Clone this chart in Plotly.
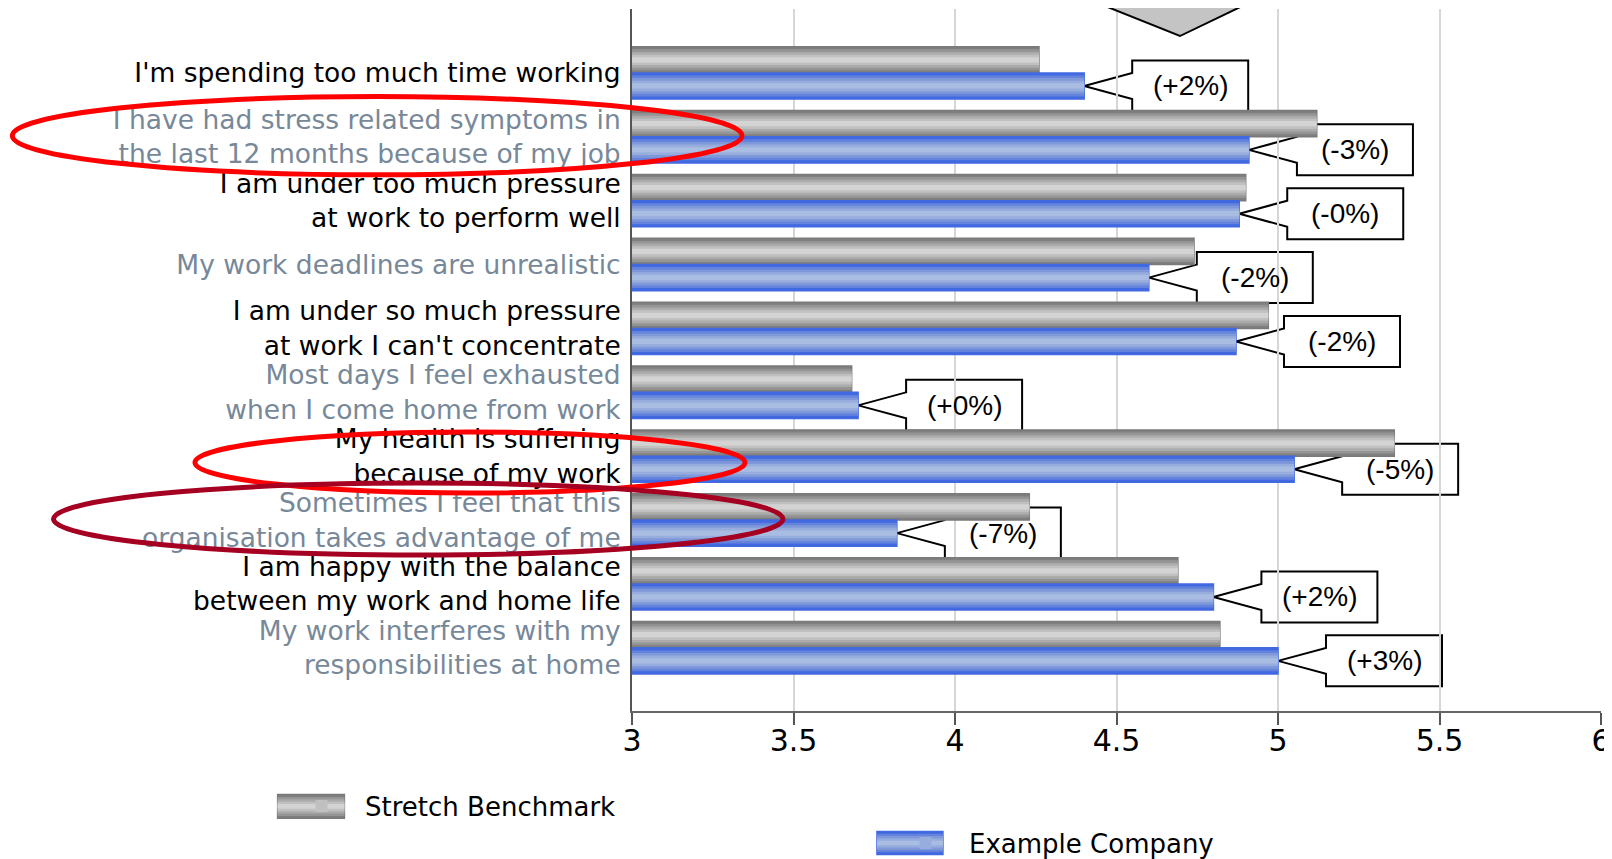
import plotly.graph_objects as go

# ---------------- data ----------------
categories = [
    "I'm spending too much time working",
    "I have had stress related symptoms in<br>the last 12 months because of my job",
    "I am under too much pressure<br>at work to perform well",
    "My work deadlines are unrealistic",
    "I am under so much pressure<br>at work I can't concentrate",
    "Most days I feel exhausted<br>when I come home from work",
    "My health is suffering<br>because of my work",
    "Sometimes I feel that this<br>organisation takes advantage of me",
    "I am happy with the balance<br>between my work and home life",
    "My work interferes with my<br>responsibilities at home",
]
benchmark = [4.26, 5.12, 4.90, 4.74, 4.97, 3.68, 5.36, 4.23, 4.69, 4.82]
company = [4.40, 4.91, 4.88, 4.60, 4.87, 3.70, 5.05, 3.82, 4.80, 5.00]
change_labels = ["(+2%)", "(-3%)", "(-0%)", "(-2%)", "(-2%)",
                 "(+0%)", "(-5%)", "(-7%)", "(+2%)", "(+3%)"]
x_ticks = [3, 3.5, 4, 4.5, 5, 5.5, 6]
x_tick_labels = ["3", "3.5", "4", "4.5", "5", "5.5", "6"]
series_names = ["Stretch Benchmark", "Example Company"]

# ---------------- styling ----------------
ypos = list(range(len(categories)))
GRAY_LAYERS = ["#7f7f7f", "#959595", "#ababab", "#c0c0c0", "#d3d3d3"]
BLUE_LAYERS = ["#4169e1", "#6383dc", "#7f98da", "#97addd", "#a9bce1"]
FRACS = [1.0, 0.8, 0.6, 0.4, 0.2]
HALF = 0.41  # bar thickness in category units
LEGEND_LAYER = 3

ticktext = []
for i, c in enumerate(categories):
    if i % 2 == 1:
        ticktext.append("<span style='color:#778899'>" + c + "</span>")
    else:
        ticktext.append(c)

fig = go.Figure()

def add_series(values, layers, centre, name, legend, outline):
    for k, (col, f) in enumerate(zip(layers, FRACS)):
        w = HALF * f
        fig.add_trace(go.Bar(
            y=ypos, x=values, orientation="h",
            width=w, offset=centre - w / 2,
            marker=dict(color=col,
                        line=dict(color=outline, width=1.5 if k == 0 else 0)),
            name=name, legend=legend,
            showlegend=(k == LEGEND_LAYER), hoverinfo="x+name",
        ))

add_series(benchmark, GRAY_LAYERS, -HALF / 2, series_names[0], "legend", "#7a7a7a")
add_series(company, BLUE_LAYERS, HALF / 2, series_names[1], "legend2", "#4169e1")

shapes = []
annotations = []
# callouts pointing to company bar ends
for i, (v, lab) in enumerate(zip(company, change_labels)):
    shapes.append(dict(
        type="path", xref="x", yref="y",
        xsizemode="pixel", ysizemode="pixel",
        xanchor=v, yanchor=i + HALF / 2,
        path="M0,0 L48,13 L48,25.5 L164,25.5 L164,-25.5 L48,-25.5 L48,-13 Z",
        fillcolor="white", line=dict(color="black", width=2), layer="below",
    ))
    annotations.append(dict(
        x=v, y=i + HALF / 2, xref="x", yref="y", text=lab, showarrow=False,
        xshift=106, font=dict(family="Liberation Sans", size=28, color="black"),
    ))

# highlight ellipses
shapes += [
    dict(type="circle", xref="paper", yref="paper",
         x0=-0.6395, x1=0.1135, y0=0.7638, y1=0.8752,
         line=dict(color="#ff0000", width=5), layer="above"),
    dict(type="circle", xref="paper", yref="paper",
         x0=-0.451, x1=0.1166, y0=0.3105, y1=0.3974,
         line=dict(color="#ff0000", width=5), layer="above"),
    dict(type="circle", xref="paper", yref="paper",
         x0=-0.597, x1=0.1558, y0=0.2222, y1=0.3248,
         line=dict(color="#a50021", width=5), layer="above"),
]
# arrow at the top
shapes.append(dict(
    type="path", xref="paper", yref="paper",
    path="M0.4417,1.03 L0.5655,0.9615 L0.6687,1.03 Z",
    fillcolor="#c4c4c4", line=dict(color="black", width=2), layer="above",
))

# wide gradient legend swatches (drawn behind the legend symbol)
def swatch(x0, x1, y0, y1, layers, outline):
    yc, h = (y0 + y1) / 2, (y1 - y0)
    for k, (col, f) in enumerate(zip(layers, FRACS)):
        shapes.append(dict(
            type="rect", xref="paper", yref="paper",
            x0=x0, x1=x1, y0=yc - h * f / 2, y1=yc + h * f / 2,
            fillcolor=col,
            line=dict(color=outline, width=1.5 if k == 0 else 0),
            layer="above",
        ))

swatch(-0.3657, -0.2968, -0.1528, -0.1191, GRAY_LAYERS, "#7a7a7a")
swatch(0.2528, 0.3209, -0.2044, -0.1717, BLUE_LAYERS, "#4169e1")

# the page body adds an 8px offset; size the figure so the plot area
# lands where the reference has it
fig.update_layout(
    width=1604, height=851,
    margin=dict(l=624, r=11, t=1, b=148, autoexpand=False),
    paper_bgcolor="white", plot_bgcolor="white",
    barmode="overlay",
    font=dict(family="DejaVu Sans", color="black"),
    xaxis=dict(
        range=[3, 6], tickvals=x_ticks, ticktext=x_tick_labels,
        showgrid=True, gridcolor="#d6d6d6", gridwidth=2,
        showline=True, linecolor="#666666", linewidth=2,
        ticks="outside", ticklen=12, tickwidth=2, tickcolor="#555555",
        ticklabelstandoff=-10,
        tickfont=dict(family="DejaVu Sans", size=30, color="black"),
        zeroline=False, fixedrange=True, automargin=False,
    ),
    yaxis=dict(
        range=[9.99, -1.0], tickvals=ypos, ticktext=ticktext,
        showgrid=False, zeroline=False,
        showline=True, linecolor="#555555", linewidth=2,
        ticks="", ticklabelstandoff=4,
        tickfont=dict(family="DejaVu Sans", size=26.5, color="black"),
        fixedrange=True, automargin=False,
    ),
    legend=dict(x=-0.3653, y=-0.1353, xanchor="left", yanchor="middle",
                orientation="h", bgcolor="rgba(0,0,0,0)", itemwidth=77,
                font=dict(family="DejaVu Sans", size=26, color="black")),
    legend2=dict(x=0.258, y=-0.188, xanchor="left", yanchor="middle",
                 orientation="h", bgcolor="rgba(0,0,0,0)", itemwidth=77,
                 font=dict(family="DejaVu Sans", size=26, color="black")),
    shapes=shapes,
    annotations=annotations,
    showlegend=True,
)

fig.write_html("out.html")
